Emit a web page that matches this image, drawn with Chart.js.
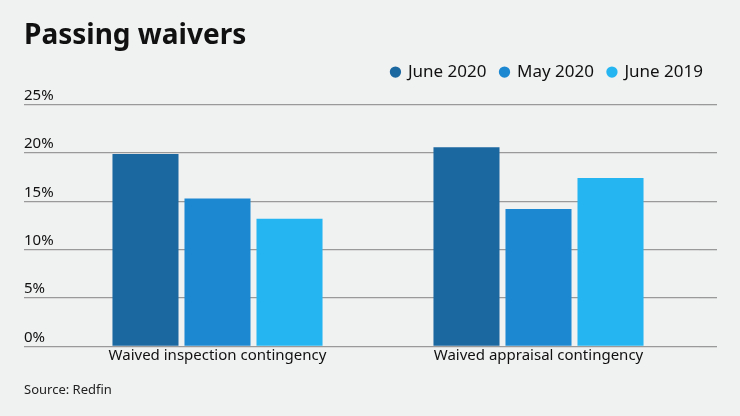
<!DOCTYPE html>
<html>
<head>
<meta charset="utf-8">
<script src="https://cdn.jsdelivr.net/npm/chart.js@4/dist/chart.umd.min.js"></script>
<style>
  html, body { margin: 0; padding: 0; background: #f0f1f1; }
  #wrap { width: 740px; height: 416px; position: relative; }
</style>
</head>
<body>
<div id="wrap"><canvas id="waiverChart"></canvas></div>
<script>
const categories = ['Waived inspection contingency', 'Waived appraisal contingency'];
const seriesNames = ['June 2020', 'May 2020', 'June 2019'];
const june2020 = [19.9, 20.6];
const may2020 = [15.3, 14.2];
const june2019 = [13.2, 17.4];
const yTicks = [0, 5, 10, 15, 20, 25];

const colors = ['#1b67a0', '#1c88d2', '#25b6f2'];
const gridGray = '#9a9a9a';
const font = '"Noto Sans", "Open Sans", sans-serif';

// extra room between legend and plot
const legendGap = {
    id: 'legendGap',
    beforeInit(chart) {
        const fit = chart.legend.fit;
        chart.legend.fit = function () {
            fit.bind(chart.legend)();
            this.height += 14;
        };
    }
};

const ctx = document.getElementById('waiverChart').getContext('2d');

new Chart(ctx, {
    type: 'bar',
    data: {
        labels: categories,
        datasets: [june2020, may2020, june2019].map((vals, i) => ({
            label: seriesNames[i],
            data: vals,
            backgroundColor: colors[i],
            borderWidth: 0,
            categoryPercentage: 0.673,
            barPercentage: 0.917
        }))
    },
    options: {
        responsive: true,
        maintainAspectRatio: false,
        animation: false,
        layout: { padding: { left: 24, right: 23, top: 0, bottom: 4 } },
        scales: {
            x: {
                grid: { display: false, drawTicks: false },
                border: { display: false },
                ticks: { color: '#111', font: { family: font, size: 15 }, padding: 0 }
            },
            y: {
                min: 0,
                max: 25,
                afterBuildTicks: s => { s.ticks = yTicks.map(v => ({ value: v })); },
                afterFit: s => { s.width = 33; },
                border: { display: false },
                grid: { color: gridGray, lineWidth: 1.3, tickLength: 33, drawTicks: true },
                ticks: {
                    callback: v => v + '%',
                    color: '#111',
                    font: { family: font, size: 15 },
                    crossAlign: 'far',
                    padding: 0,
                    labelOffset: -9
                }
            },
            y2: {
                position: 'right',
                min: 0,
                max: 25,
                afterBuildTicks: s => { s.ticks = yTicks.map(v => ({ value: v })); },
                afterFit: s => { s.width = 18; },
                border: { display: false },
                grid: { color: gridGray, lineWidth: 1.3, tickLength: 18, drawOnChartArea: false },
                ticks: { display: false }
            }
        },
        plugins: {
            title: {
                display: true,
                text: 'Passing waivers',
                align: 'start',
                color: '#111',
                font: { family: font, size: 28, weight: 'bold' },
                padding: { top: 19, bottom: -3 }
            },
            subtitle: {
                display: true,
                position: 'bottom',
                text: 'Source: Redfin',
                align: 'start',
                color: '#222',
                font: { family: font, size: 13 },
                padding: { top: 18, bottom: 14 }
            },
            legend: {
                position: 'top',
                align: 'end',
                labels: {
                    usePointStyle: true,
                    pointStyle: 'circle',
                    boxWidth: 8,
                    boxHeight: 8,
                    padding: 14,
                    color: '#111',
                    font: { family: font, size: 17 }
                }
            },
            tooltip: { enabled: false }
        }
    },
    plugins: [legendGap]
});
</script>
</body>
</html>
